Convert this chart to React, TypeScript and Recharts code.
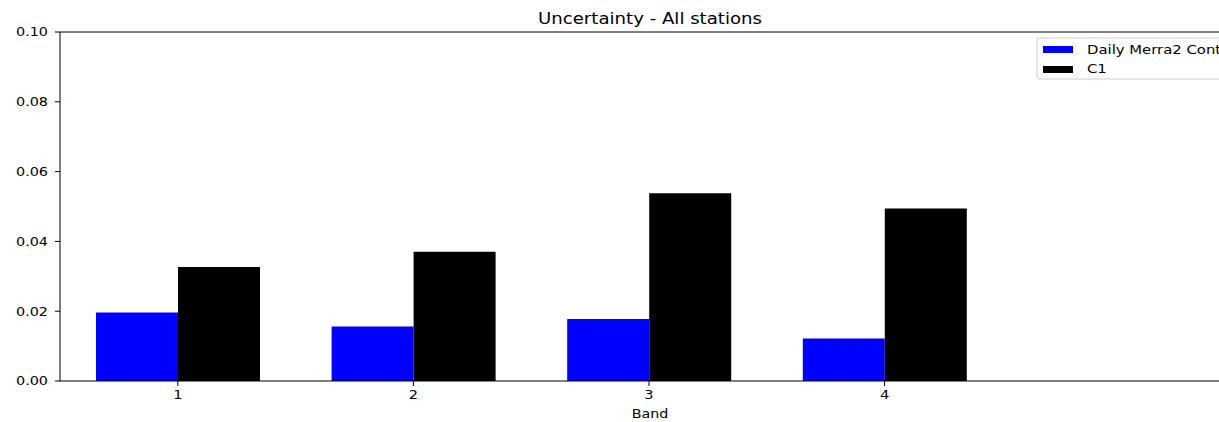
import { Bar, BarChart, ReferenceLine, XAxis, YAxis } from "recharts";

const bands = [1, 2, 3, 4];
const dailyMerra2 = [0.0196, 0.0156, 0.0178, 0.0122];
const c1 = [0.0327, 0.037, 0.0538, 0.0494];
const yTicks = [0, 0.02, 0.04, 0.06, 0.08, 0.1];

const seriesNames = ["Daily Merra2 Contribution", "C1"];
const title = "Uncertainty - All stations";
const xLabel = "Band";

const FONT = "DejaVu Sans, sans-serif";

// the figure fills the whole window, so drop the default body margin
if (typeof document !== "undefined") {
  document.body.style.margin = "0";
}

const data = bands.map((b, i) => ({
  band: b,
  merra: dailyMerra2[i],
  c1: c1[i],
}));

const XTick = ({ x, y, payload }: any) => (
  <g transform={`translate(${x},${y}) scale(1.12,1)`}>
    <text textAnchor="middle" dy="0.71em" fontSize={13} fontFamily={FONT} fill="#000">
      {payload.value}
    </text>
  </g>
);

const YTick = ({ x, y, payload }: any) => (
  <g transform={`translate(${x},${y}) scale(1.15,1)`}>
    <text textAnchor="end" dy="0.355em" fontSize={12.5} fontFamily={FONT} fill="#000">
      {Number(payload.value).toFixed(2)}
    </text>
  </g>
);

const App = () => {
  return (
    <div style={{ position: "relative", width: 1219, height: 422, overflow: "hidden", background: "#fff" }}>
      <div style={{ position: "absolute", left: 8, top: 8 }}>
        <BarChart
          width={1240}
          height={414}
          data={data}
          margin={{ top: 24, right: 10, left: 0, bottom: 0 }}
          barGap={0}
        >
          <XAxis
            dataKey="band"
            type="number"
            domain={[0.5, 5.5]}
            ticks={bands}
            allowDataOverflow
            height={41}
            tickSize={5}
            tickMargin={4}
            stroke="#000"
            tick={<XTick />}
          />
          <YAxis
            domain={[0, 0.1]}
            ticks={yTicks}
            width={52}
            tickSize={5}
            tickMargin={7}
            stroke="#000"
            tick={<YTick />}
          />
          <ReferenceLine y={0.1} stroke="#000" strokeWidth={1} />
          <Bar dataKey="merra" name={seriesNames[0]} fill="#0000ff" barSize={82} isAnimationActive={false} />
          <Bar dataKey="c1" name={seriesNames[1]} fill="#000000" barSize={82} isAnimationActive={false} />
        </BarChart>
        <svg
          width={1240}
          height={414}
          style={{ position: "absolute", left: 0, top: 0, pointerEvents: "none" }}
        >
          <g transform="translate(642,16) scale(1.17,1)">
            <text textAnchor="middle" fontSize={15.5} fontFamily={FONT} fill="#000">
              {title}
            </text>
          </g>
          <g transform="translate(642,410) scale(1.1,1)">
            <text textAnchor="middle" fontSize={13} fontFamily={FONT} fill="#000">
              {xLabel}
            </text>
          </g>
          <rect x={1029} y={30} width={300} height={41} rx={3} fill="#fff" fillOpacity={0.8} stroke="#ccc" />
          <rect x={1035} y={38} width={30} height={7} fill="#0000ff" />
          <rect x={1035} y={58} width={30} height={7} fill="#000000" />
          <g transform="translate(1079,46) scale(1.19,1)">
            <text fontSize={12.5} fontFamily={FONT} fill="#000">
              {seriesNames[0]}
            </text>
          </g>
          <g transform="translate(1079,65) scale(1.19,1)">
            <text fontSize={12.5} fontFamily={FONT} fill="#000">
              {seriesNames[1]}
            </text>
          </g>
        </svg>
      </div>
    </div>
  );
};

export default App;
